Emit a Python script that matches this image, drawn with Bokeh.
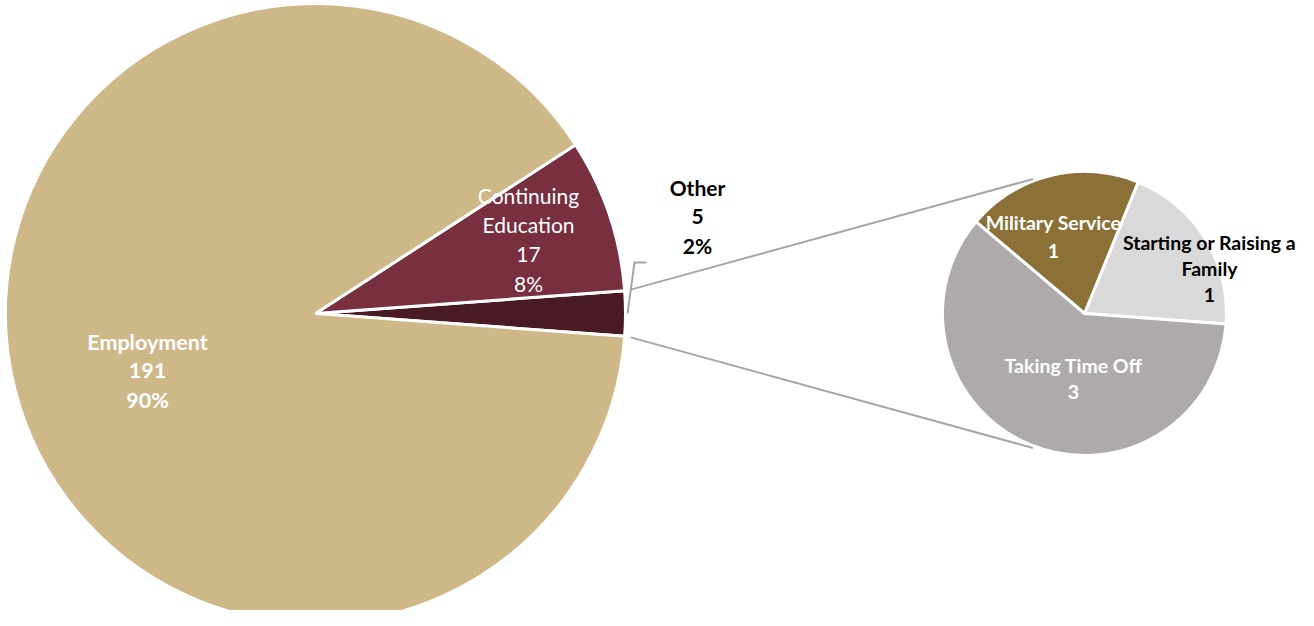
import math
from bokeh.plotting import figure
from bokeh.models import Range1d, ColumnDataSource
from bokeh.core.properties import value
from bokeh.embed import file_html
from bokeh.resources import INLINE

# ---- data ----
main_categories = ["Other", "Continuing Education", "Employment"]
main_values = [5, 17, 191]
main_colors = ["#4B1B25", "#782F40", "#CEB888"]

sub_categories = ["Starting or Raising a Family", "Military Service", "Taking Time Off"]
sub_values = [1, 1, 3]
sub_colors = ["#D9D9D9", "#8B7038", "#AEAAAA"]

# ---- layout (image coordinates, y measured downward -> converted) ----
W, H = 1298, 610
IMG_H = 626

def Y(y_img):
    return IMG_H - y_img

main_cx, main_cy, main_r = 315, Y(313), 310
sub_cx, sub_cy, sub_r = 1084, Y(313), 142

p = figure(width=W, height=H, output_backend="svg", toolbar_location=None,
           x_range=Range1d(0, W), y_range=Range1d(IMG_H - H, IMG_H),
           min_border=0, outline_line_color=None)
p.axis.visible = False
p.grid.visible = False
p.background_fill_color = "white"
p.border_fill_color = "white"

# main pie angles: "Other" centred on the horizontal, rest anticlockwise
total = sum(main_values)
other_span = 2 * math.pi * main_values[0] / total
start = -other_span / 2
starts, ends = [], []
a = start
for v in main_values:
    starts.append(a)
    a += 2 * math.pi * v / total
    ends.append(a)

p.wedge(x=main_cx, y=main_cy, radius=main_r,
        start_angle="start", end_angle="end", fill_color="color",
        line_color="white", line_width=3,
        source=ColumnDataSource(dict(start=starts, end=ends, color=main_colors)))

# secondary pie: same start angle
sub_total = sum(sub_values)
s_starts, s_ends = [], []
a = start
for v in sub_values:
    s_starts.append(a)
    a += 2 * math.pi * v / sub_total
    s_ends.append(a)

p.wedge(x=sub_cx, y=sub_cy, radius=sub_r,
        start_angle="start", end_angle="end", fill_color="color",
        line_color="white", line_width=3,
        source=ColumnDataSource(dict(start=s_starts, end=s_ends, color=sub_colors)))

# connector lines from "Other" slice to secondary pie
conn_angle = math.radians(111)
for sgn in (1, -1):
    ang = sgn * other_span / 2
    x0 = main_cx + (main_r + 6) * math.cos(ang)
    y0 = main_cy + (main_r) * math.sin(ang) + sgn * 1
    x1 = sub_cx + (sub_r + 2) * math.cos(sgn * conn_angle)
    y1 = sub_cy + (sub_r + 2) * math.sin(sgn * conn_angle)
    p.line([x0, x1], [y0, y1], line_color="#A6A6A6", line_width=2)

# leader line for "Other" label
p.line([646, 634, 627], [Y(262), Y(262), Y(313)], line_color="#A6A6A6", line_width=2)

# ---- labels ----
def pct(v):
    return f"{round(100 * v / total)}%"

FONT = "Lato"

def label(lines, cx, cy_img, color, bold, size, spacing):
    n = len(lines)
    ys = [Y(cy_img + (i - (n - 1) / 2) * spacing) for i in range(n)]
    p.text(x=[cx] * n, y=ys, text=lines, text_align="center", text_baseline="middle",
           text_color=color, text_font=value(FONT),
           text_font_style="bold" if bold else "normal", text_font_size=f"{size}px")

label(["Employment", str(main_values[2]), pct(main_values[2])], 147, 370, "white", True, 21.5, 29)
label(["Continuing", "Education", str(main_values[1]), pct(main_values[1])], 528, 239, "white", False, 21, 29.3)
label(["Other", str(main_values[0]), pct(main_values[0])], 697, 216, "black", True, 21, 29)
label(["Military Service", str(sub_values[1])], 1053, 236, "white", True, 19.5, 28)
label(["Starting or Raising a", "Family", str(sub_values[0])], 1209, 268, "black", True, 19.5, 26)
label(["Taking Time Off", str(sub_values[2])], 1073, 378, "white", True, 19.5, 27)

open("out.html", "w").write(file_html(p, INLINE))
